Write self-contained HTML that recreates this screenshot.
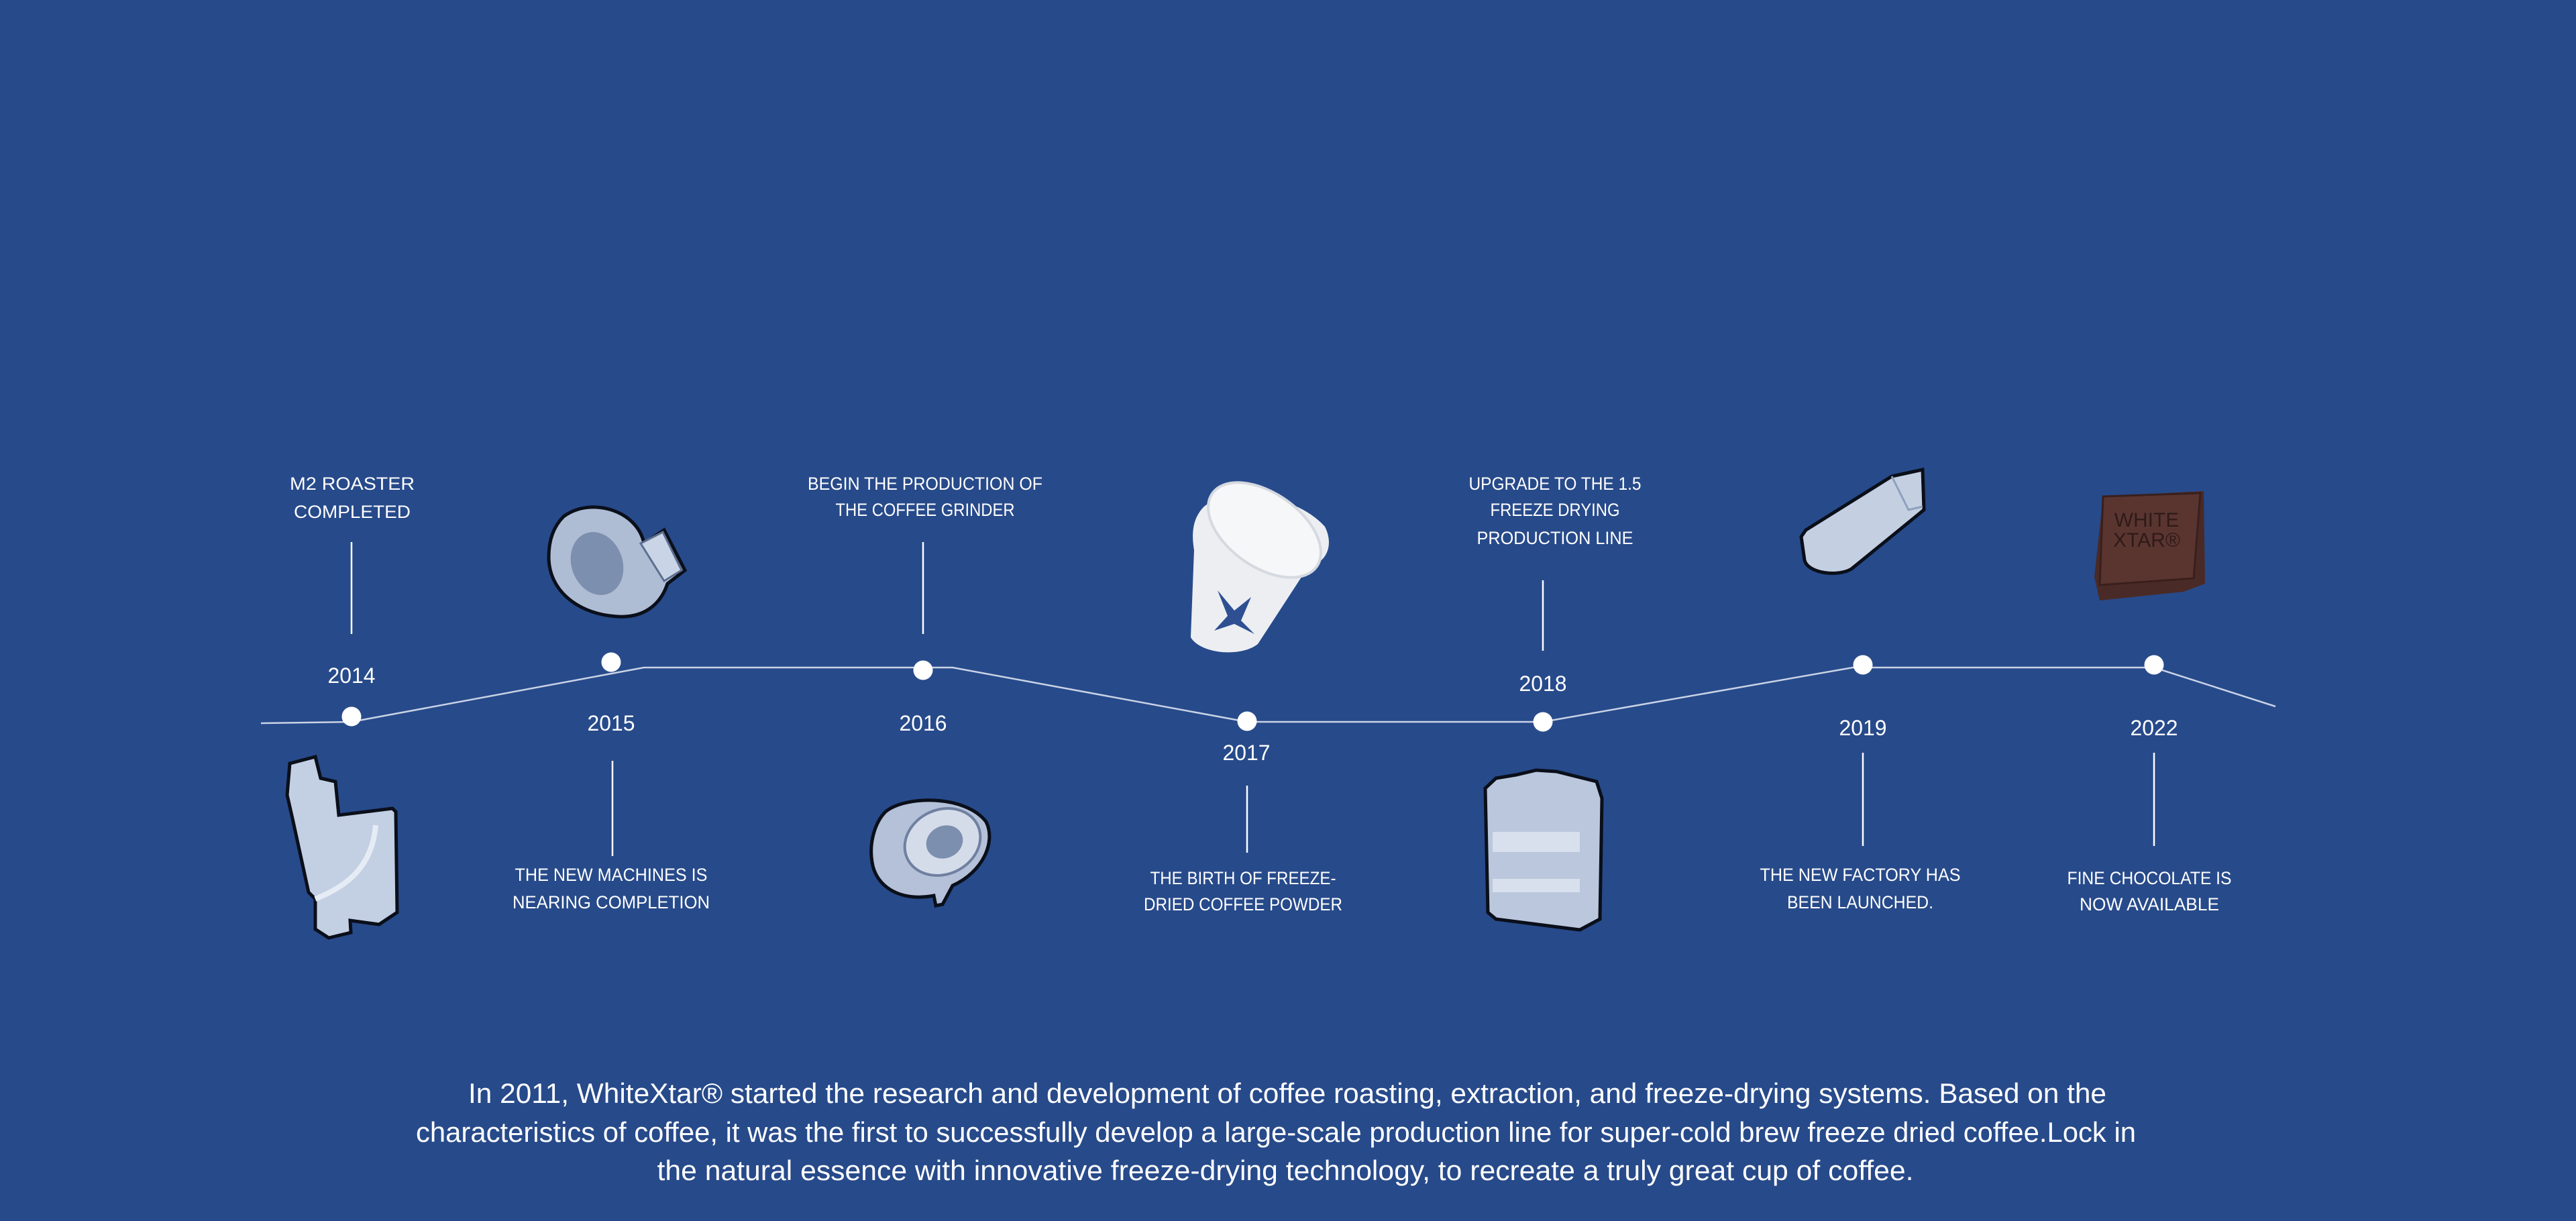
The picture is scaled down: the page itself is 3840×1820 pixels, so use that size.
<!DOCTYPE html>
<html><head><meta charset="utf-8"><style>
html,body{margin:0;padding:0;background:#274a8a;}
svg{display:block}
text{font-family:"Liberation Sans",sans-serif;fill:#fff;}
</style></head><body>
<svg width="3840" height="1820" viewBox="0 0 3840 1820" xmlns="http://www.w3.org/2000/svg">
<rect width="3840" height="1820" fill="#274a8a"/>
<!-- timeline -->
<polyline points="389,1078 524,1076 960,995 1420,995 1859,1076 2300,1076 2762,995 3211,995 3392,1053" fill="none" stroke="#c9d3e6" stroke-width="2.5"/>
<g fill="#fff">
<circle cx="524" cy="1068" r="14.5"/><circle cx="911" cy="987" r="14.5"/><circle cx="1376" cy="999" r="14.5"/>
<circle cx="1859" cy="1075" r="14.5"/><circle cx="2300" cy="1076" r="14.5"/><circle cx="2777" cy="991" r="14.5"/><circle cx="3211" cy="991" r="14.5"/>
</g>
<g stroke="#fff" stroke-width="2.5">
<line x1="524" y1="808" x2="524" y2="945"/>
<line x1="913" y1="1134" x2="913" y2="1276"/>
<line x1="1376" y1="808" x2="1376" y2="945"/>
<line x1="1859" y1="1171" x2="1859" y2="1271"/>
<line x1="2300" y1="865" x2="2300" y2="970"/>
<line x1="2777" y1="1122" x2="2777" y2="1261"/>
<line x1="3211" y1="1122" x2="3211" y2="1261"/>
</g>
<!-- years -->
<g font-size="32" text-anchor="middle">
<text x="524" y="1018" textLength="71" lengthAdjust="spacingAndGlyphs">2014</text>
<text x="911" y="1089" textLength="71" lengthAdjust="spacingAndGlyphs">2015</text>
<text x="1376" y="1089" textLength="71" lengthAdjust="spacingAndGlyphs">2016</text>
<text x="1858" y="1133" textLength="71" lengthAdjust="spacingAndGlyphs">2017</text>
<text x="2300" y="1030" textLength="71" lengthAdjust="spacingAndGlyphs">2018</text>
<text x="2777" y="1096" textLength="71" lengthAdjust="spacingAndGlyphs">2019</text>
<text x="3211" y="1096" textLength="71" lengthAdjust="spacingAndGlyphs">2022</text>
</g>
<!-- labels -->
<g font-size="27" text-anchor="middle">
<text x="525" y="730" textLength="186" lengthAdjust="spacingAndGlyphs">M2 ROASTER</text>
<text x="525" y="772" textLength="174" lengthAdjust="spacingAndGlyphs">COMPLETED</text>
<text x="1379" y="730" textLength="350" lengthAdjust="spacingAndGlyphs">BEGIN THE PRODUCTION OF</text>
<text x="1379" y="769" textLength="267" lengthAdjust="spacingAndGlyphs">THE COFFEE GRINDER</text>
<text x="911" y="1313" textLength="287" lengthAdjust="spacingAndGlyphs">THE NEW MACHINES IS</text>
<text x="911" y="1354" textLength="294" lengthAdjust="spacingAndGlyphs">NEARING COMPLETION</text>
<text x="1853" y="1318" textLength="277" lengthAdjust="spacingAndGlyphs">THE BIRTH OF FREEZE-</text>
<text x="1853" y="1357" textLength="296" lengthAdjust="spacingAndGlyphs">DRIED COFFEE POWDER</text>
<text x="2318" y="730" textLength="257" lengthAdjust="spacingAndGlyphs">UPGRADE TO THE 1.5</text>
<text x="2318" y="769" textLength="193" lengthAdjust="spacingAndGlyphs">FREEZE DRYING</text>
<text x="2318" y="811" textLength="233" lengthAdjust="spacingAndGlyphs">PRODUCTION LINE</text>
<text x="2773" y="1313" textLength="299" lengthAdjust="spacingAndGlyphs">THE NEW FACTORY HAS</text>
<text x="2773" y="1354" textLength="218" lengthAdjust="spacingAndGlyphs">BEEN LAUNCHED.</text>
<text x="3204" y="1318" textLength="245" lengthAdjust="spacingAndGlyphs">FINE CHOCOLATE IS</text>
<text x="3204" y="1357" textLength="208" lengthAdjust="spacingAndGlyphs">NOW AVAILABLE</text>
</g>
<!-- paragraph -->
<g font-size="42" text-anchor="middle">
<text x="1919" y="1644" textLength="2442" lengthAdjust="spacingAndGlyphs">In 2011, WhiteXtar®  started the research and development of coffee roasting, extraction, and freeze-drying systems. Based on the</text>
<text x="1902" y="1702" textLength="2564" lengthAdjust="spacingAndGlyphs">characteristics of coffee, it was the first to successfully develop a large-scale production line for super-cold brew freeze dried coffee.Lock in</text>
<text x="1916" y="1759" textLength="1873" lengthAdjust="spacingAndGlyphs">the natural essence with innovative freeze-drying technology, to recreate a truly great cup of coffee.</text>
</g>
<!-- 2014 machine -->
<polygon points="432,1138 470,1128 478,1160 500,1165 505,1215 585,1205 590,1210 592,1360 565,1378 522,1372 523,1390 490,1398 470,1385 470,1340 460,1330 436,1220 428,1185" fill="#c3cfe2" stroke="#0a0f1a" stroke-width="5"/>
<path d="M560,1230 C555,1290 520,1320 470,1340" stroke="#e6ecf5" stroke-width="8" fill="none"/>
<!-- 2015 blower -->
<path d="M840,770 C880,740 950,760 960,810 L990,790 L1021,850 L995,870 C985,900 960,925 910,918 C860,912 818,880 818,830 C818,805 825,785 840,770 Z" fill="#aebcd4" stroke="#0a0f1a" stroke-width="5"/>
<ellipse cx="890" cy="840" rx="38" ry="48" fill="#7d8fae" transform="rotate(-20 890 840)"/>
<polygon points="955,810 988,793 1016,850 990,866" fill="#c9d4e6" stroke="#5d6f8f" stroke-width="3"/>
<!-- 2016 grinder -->
<path d="M1320,1210 C1350,1185 1440,1185 1470,1225 C1485,1255 1465,1300 1420,1320 L1405,1348 L1395,1350 L1392,1335 C1340,1345 1305,1320 1300,1285 C1295,1255 1305,1225 1320,1210 Z" fill="#b4c1d8" stroke="#0a0f1a" stroke-width="5"/>
<ellipse cx="1405" cy="1255" rx="58" ry="48" fill="#d4dcea" stroke="#6f80a0" stroke-width="4" transform="rotate(-25 1405 1255)"/>
<ellipse cx="1408" cy="1255" rx="28" ry="24" fill="#7d8fae" transform="rotate(-25 1408 1255)"/>
<!-- 2017 cup -->
<path d="M1795,755 C1830,725 1930,735 1975,785 C1990,815 1975,840 1950,845 L1875,960 C1850,980 1790,975 1775,950 L1780,820 C1775,790 1780,770 1795,755 Z" fill="#eceef2"/>
<ellipse cx="1885" cy="790" rx="95" ry="55" fill="#f6f7f9" stroke="#d5d9e0" stroke-width="4" transform="rotate(35 1885 790)"/>
<path d="M1815,880 L1840,910 L1865,890 L1850,925 L1870,945 L1840,930 L1810,940 L1830,918 Z" fill="#2f4f93"/>
<!-- 2018 box -->
<polygon points="2230,1160 2260,1155 2290,1148 2320,1150 2380,1165 2388,1190 2385,1370 2355,1386 2230,1370 2218,1360 2214,1175" fill="#bac7dc" stroke="#0a0f1a" stroke-width="5"/>
<rect x="2225" y="1240" width="130" height="30" fill="#dfe6f0" opacity=".8"/>
<rect x="2225" y="1310" width="130" height="20" fill="#dfe6f0" opacity=".8"/>
<!-- 2019 cylinder -->
<path d="M2866,700 L2868,760 L2760,848 C2740,860 2695,855 2690,835 L2685,800 L2692,790 L2820,710 Z" fill="#c4d0e2" stroke="#0a0f1a" stroke-width="5"/>
<path d="M2820,710 L2845,760 L2866,755" fill="none" stroke="#8fa0bd" stroke-width="3"/>
<!-- 2022 chocolate -->
<polygon points="3135,740 3285,732 3287,870 3255,882 3130,895 3122,860" fill="#4a2a26"/>
<polygon points="3135,740 3280,735 3270,862 3130,872" fill="#5a3530" stroke="#3a1f1c" stroke-width="3"/>
<text x="3200" y="785" font-size="30" font-family="Liberation Serif,serif" fill="#2f1a17" text-anchor="middle" style="fill:#2f1a17">WHITE</text>
<text x="3200" y="815" font-size="30" font-family="Liberation Serif,serif" text-anchor="middle" style="fill:#2f1a17">XTAR®</text>
</svg>
</body></html>
